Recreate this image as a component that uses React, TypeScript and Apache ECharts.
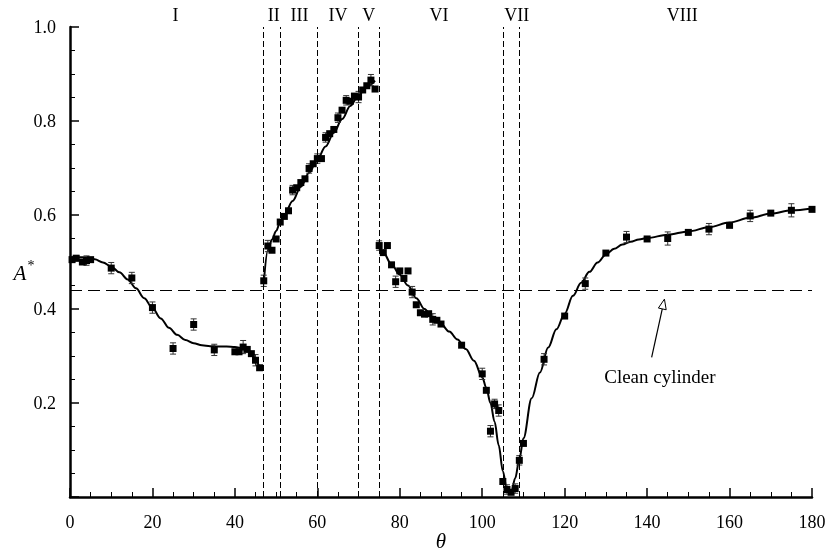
import React, { useEffect, useRef } from 'react';
import * as echarts from 'echarts';

// Measured points: angle θ, amplitude A*, error half-width
const theta = [
  0.5, 1.5, 3, 4, 5, 10, 15, 20, 25, 30, 35, 40, 41, 42, 43, 44, 45, 46,
  47, 48, 49, 50, 51, 52, 53, 54, 55, 56, 57, 58, 59, 60, 61, 62, 63, 64, 65, 66, 67, 68, 69, 70, 71, 72, 73, 74,
  75, 76, 77, 78, 79, 80, 81, 82, 83, 84, 85, 86, 87, 88, 89, 90, 95, 100, 101, 102, 103, 104,
  105, 106, 107, 108, 109, 110, 115, 120, 125, 130, 135, 140, 145, 150, 155, 160, 165, 170, 175, 180,
];
const amp = [
  0.505, 0.508, 0.5, 0.503, 0.505, 0.487, 0.466, 0.403, 0.316, 0.367, 0.313, 0.309, 0.309, 0.319, 0.314, 0.305, 0.291, 0.275,
  0.46, 0.534, 0.525, 0.549, 0.585, 0.597, 0.609, 0.653, 0.658, 0.669, 0.677, 0.699, 0.709, 0.72, 0.72, 0.765, 0.773, 0.782, 0.807, 0.823, 0.844, 0.842, 0.853, 0.851, 0.866, 0.875, 0.887, 0.868,
  0.535, 0.52, 0.535, 0.494, 0.458, 0.481, 0.465, 0.481, 0.436, 0.409, 0.392, 0.389, 0.39, 0.378, 0.376, 0.368, 0.323, 0.262, 0.227, 0.14, 0.198, 0.184,
  0.033, 0.016, 0.01, 0.018, 0.078, 0.114, 0.293, 0.385, 0.454, 0.519, 0.553, 0.549, 0.55, 0.563, 0.57, 0.578, 0.598, 0.604, 0.61, 0.612,
];
const err = [
  0.006, 0.006, 0, 0.01, 0, 0.012, 0.012, 0.012, 0.012, 0.012, 0.012, 0, 0, 0.014, 0, 0, 0.012, 0,
  0.012, 0.012, 0, 0, 0, 0, 0, 0.01, 0, 0, 0, 0.01, 0, 0.01, 0, 0.01, 0, 0, 0.01, 0, 0.01, 0, 0, 0.012, 0, 0, 0.012, 0,
  0.01, 0, 0, 0, 0.012, 0, 0, 0, 0.012, 0, 0, 0, 0, 0.012, 0, 0, 0, 0.012, 0, 0.012, 0.01, 0.012,
  0, 0.01, 0, 0.01, 0.01, 0, 0.012, 0, 0.012, 0, 0.012, 0, 0.014, 0, 0.012, 0, 0.012, 0, 0.014, 0,
];

// Fitted curves
const fit1Theta = [0, 2, 4, 6, 8, 10, 12, 14, 16, 18, 20, 22, 24, 26, 28, 30, 32, 34, 36, 38, 40, 42, 43, 44, 45, 46];
const fit1A = [0.508, 0.51, 0.51, 0.506, 0.499, 0.49, 0.478, 0.463, 0.444, 0.423, 0.402, 0.38, 0.36, 0.345, 0.334, 0.327, 0.323, 0.321, 0.32, 0.32, 0.319, 0.316, 0.312, 0.303, 0.291, 0.275];
const fit2Theta = [47, 48, 49, 50, 51, 52, 54, 56, 58, 60, 62, 64, 66, 68, 70, 72, 74];
const fit2A = [0.455, 0.525, 0.548, 0.566, 0.585, 0.6, 0.63, 0.66, 0.69, 0.718, 0.746, 0.775, 0.804, 0.832, 0.855, 0.873, 0.886];
const fit3Theta = [75, 76, 78, 80, 82, 84, 86, 88, 90, 92, 94, 96, 98, 100, 101, 102, 103, 104, 105, 106, 107, 108, 109, 110, 112, 114, 116, 118, 120, 122, 124, 126, 128, 130, 132, 134, 136, 138, 140, 145, 150, 155, 160, 165, 170, 175, 180];
const fit3A = [0.535, 0.52, 0.495, 0.473, 0.45, 0.423, 0.4, 0.382, 0.368, 0.352, 0.335, 0.315, 0.29, 0.255, 0.232, 0.2, 0.16, 0.11, 0.055, 0.015, 0.008, 0.04, 0.08, 0.125, 0.21, 0.265, 0.318, 0.357, 0.39, 0.428, 0.456, 0.479, 0.499, 0.516, 0.528, 0.537, 0.543, 0.548, 0.551, 0.558, 0.565, 0.574, 0.584, 0.594, 0.603, 0.61, 0.614];

// Regime boundaries and labels
const boundaries = [47, 51, 60, 70, 75, 105, 109];
const regionNames = ['I', 'II', 'III', 'IV', 'V', 'VI', 'VII', 'VIII'];
const regionCenters = [25.6, 49.4, 55.7, 65, 72.5, 89.5, 108.4, 148.5];
const cleanCylinder = 0.436;

const xTicks = [0, 20, 40, 60, 80, 100, 120, 140, 160, 180];

const FONT = '"Liberation Serif", "Times New Roman", serif';

export default function App() {
  const ref = useRef<HTMLDivElement>(null);
  useEffect(() => {
    const chart = echarts.init(ref.current!, null, { renderer: 'svg' });
    const pts = theta.map((t, i) => [t, amp[i]]);
    const errData = theta
      .map((t, i) => [t, amp[i], err[i]])
      .filter((d) => d[2] > 0);
    const curveStyle = { color: '#000', width: 2 };
    const mkCurve = (xs: number[], ys: number[]) => ({
      type: 'line',
      data: xs.map((x, i) => [x, ys[i]]),
      showSymbol: false,
      symbol: 'none',
      smooth: 0.35,
      smoothMonotone: 'x',
      lineStyle: curveStyle,
      silent: true,
      z: 3,
    });
    chart.setOption({
      animation: false,
      grid: { left: 70, right: 17, top: 27, bottom: 56 },
      xAxis: {
        type: 'value',
        min: 0,
        max: 180,
        interval: 20,
        splitLine: { show: false },
        axisLine: { show: true, lineStyle: { color: '#000', width: 2.5 } },
        axisTick: { inside: true, length: 9, lineStyle: { color: '#000', width: 1.5 } },
        minorTick: { show: true, splitNumber: 4, length: 5, lineStyle: { color: '#000', width: 1 } },
        axisLabel: {
          color: '#000',
          fontFamily: FONT,
          fontSize: 18,
          margin: 16,
          formatter: (v: number) => (xTicks.includes(v) ? String(v) : ''),
        },
      },
      yAxis: {
        type: 'value',
        min: 0,
        max: 1,
        interval: 0.2,
        splitLine: { show: false },
        axisLine: { show: true, lineStyle: { color: '#000', width: 2.5 } },
        axisTick: { inside: true, length: 9, lineStyle: { color: '#000', width: 1.5 } },
        minorTick: { show: true, splitNumber: 4, length: 5, lineStyle: { color: '#000', width: 1 } },
        axisLabel: {
          color: '#000',
          fontFamily: FONT,
          fontSize: 18,
          margin: 14,
          formatter: (v: number) => (v === 0 ? '' : v.toFixed(1)),
        },
      },
      series: [
        mkCurve(fit1Theta, fit1A),
        mkCurve(fit2Theta, fit2A),
        mkCurve(fit3Theta, fit3A),
        {
          type: 'custom',
          data: errData,
          encode: { x: 0, y: 1 },
          silent: true,
          z: 4,
          renderItem: (params: any, api: any) => {
            const x = api.value(0);
            const y = api.value(1);
            const e = api.value(2);
            const top = api.coord([x, y + e]);
            const bot = api.coord([x, y - e]);
            const w = 3;
            const st = { stroke: '#333', lineWidth: 1 };
            return {
              type: 'group',
              children: [
                { type: 'line', shape: { x1: top[0], y1: top[1], x2: bot[0], y2: bot[1] }, style: st },
                { type: 'line', shape: { x1: top[0] - w, y1: top[1], x2: top[0] + w, y2: top[1] }, style: st },
                { type: 'line', shape: { x1: bot[0] - w, y1: bot[1], x2: bot[0] + w, y2: bot[1] }, style: st },
              ],
            };
          },
        },
        {
          type: 'scatter',
          data: pts,
          symbol: 'rect',
          symbolSize: 7,
          itemStyle: { color: '#000', opacity: 1 },
          silent: true,
          z: 5,
          markLine: {
            silent: true,
            symbol: 'none',
            label: { show: false },
            lineStyle: { color: '#000', width: 1, type: [6, 3], opacity: 1 },
            data: [
              ...boundaries.map((b) => ({ xAxis: b })),
              { yAxis: cleanCylinder, lineStyle: { color: '#000', width: 1, type: [12, 6] } },
            ],
          },
        },
      ],
    });

    const px = (x: number, y: number) => chart.convertToPixel({ gridIndex: 0 }, [x, y]) as number[];
    const graphics: any[] = [];
    regionNames.forEach((name, i) => {
      const p = px(regionCenters[i], 1);
      graphics.push({
        type: 'text',
        x: p[0],
        y: 15,
        style: { text: name, fill: '#000', font: `18px ${FONT}`, align: 'center', verticalAlign: 'middle' },
      });
    });
    // Clean cylinder annotation
    const tail = px(141.1, 0.297);
    const tip = px(144.2, 0.421);
    const dx = tip[0] - tail[0];
    const dy = tip[1] - tail[1];
    const len = Math.hypot(dx, dy);
    const ux = dx / len;
    const uy = dy / len;
    const hl = 10;
    const hw = 4;
    const bx = tip[0] - ux * hl;
    const by = tip[1] - uy * hl;
    graphics.push({
      type: 'line',
      shape: { x1: tail[0], y1: tail[1], x2: bx, y2: by },
      style: { stroke: '#000', lineWidth: 1.2 },
    });
    graphics.push({
      type: 'polygon',
      shape: {
        points: [
          [tip[0], tip[1]],
          [bx - uy * hw, by + ux * hw],
          [bx + uy * hw, by - ux * hw],
        ],
      },
      style: { fill: '#fff', stroke: '#000', lineWidth: 1 },
    });
    const tp = px(143.1, 0.257);
    graphics.push({
      type: 'text',
      x: tp[0],
      y: tp[1],
      style: { text: 'Clean cylinder', fill: '#000', font: `19px ${FONT}`, align: 'center', verticalAlign: 'middle' },
    });
    // Axis titles
    graphics.push({
      type: 'text',
      x: 441,
      y: 541,
      style: { text: 'θ', fill: '#000', font: `italic 21px ${FONT}`, align: 'center', verticalAlign: 'middle' },
    });
    graphics.push({
      type: 'text',
      x: 20,
      y: 273,
      style: { text: 'A', fill: '#000', font: `italic 21px ${FONT}`, align: 'center', verticalAlign: 'middle' },
    });
    graphics.push({
      type: 'text',
      x: 31,
      y: 265,
      style: { text: '*', fill: '#000', font: `14px ${FONT}`, align: 'center', verticalAlign: 'middle' },
    });
    chart.setOption({ graphic: graphics });

    return () => chart.dispose();
  }, []);
  return <div ref={ref} style={{ position: 'fixed', left: 0, top: 0, width: 829, height: 553 }} />;
}
